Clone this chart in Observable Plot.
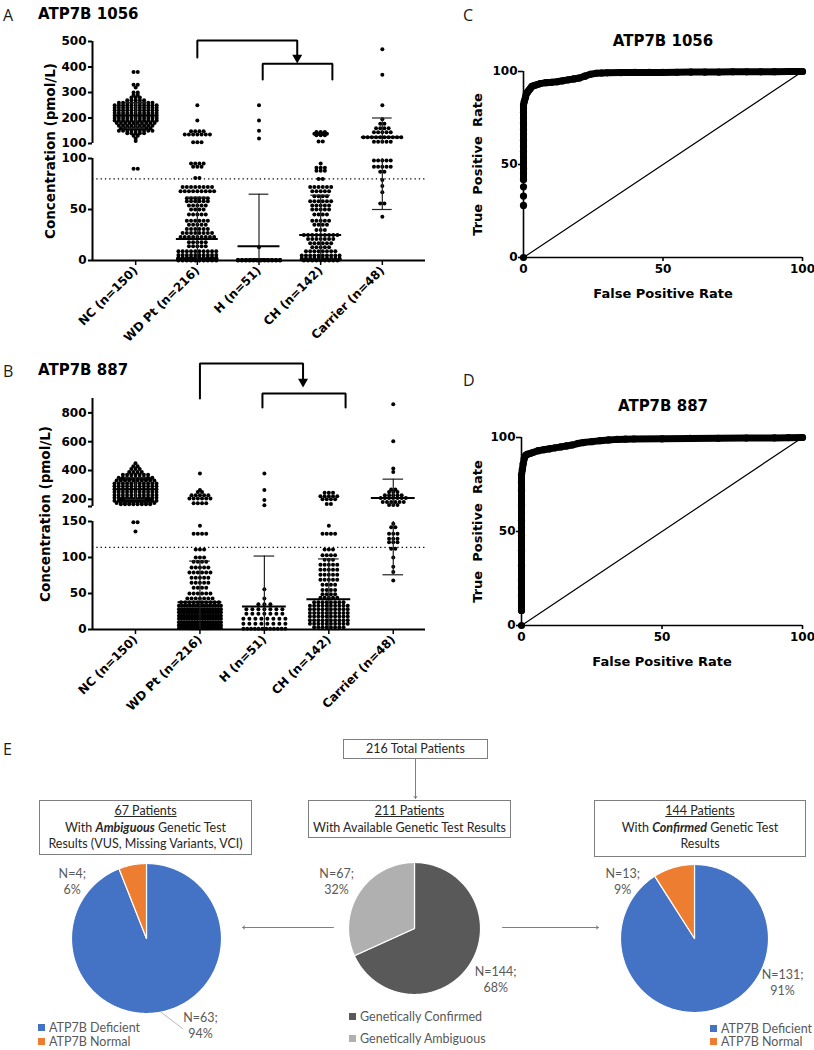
<!DOCTYPE html>
<html>
<head>
<meta charset="utf-8">
<script src="https://cdn.jsdelivr.net/npm/d3@7"></script>
<script src="https://cdn.jsdelivr.net/npm/@observablehq/plot@0.6"></script>
<style>
  html, body { margin: 0; padding: 0; background: #fff; }
  #page { position: relative; width: 814px; height: 1050px; overflow: hidden; background: #fff; }
  .t { position: absolute; line-height: 1; white-space: nowrap; }
  .letter { font: 16px "Open Sans", sans-serif; color: #1a1a1a; }
  .ptitle { font: bold 15px "DejaVu Sans", sans-serif; color: #000; }
  .box { position: absolute; box-sizing: border-box; border: 1px solid #7f7f7f; font: 12.5px Lato, sans-serif; color: #262626; text-align: center; line-height: 16.5px; padding-top: 2px; background: #fff; white-space: nowrap; }
  .leg { position: absolute; font: 12.5px Lato, sans-serif; color: #595959; line-height: 1; white-space: nowrap; }
  .sw { display: inline-block; width: 7px; height: 7px; margin-right: 4px; vertical-align: 1px; }
</style>
</head>
<body>
<div id="page"></div>
<script>
// ---------------- DATA ----------------
const groups = ["NC (n=150)", "WD Pt (n=216)", "H (n=51)", "CH (n=142)", "Carrier (n=48)"];

// ATP7B 1056 (pmol/L). Each row: [concentration, number of dots drawn in that row]
const a1056NC = [[380,2],[330,2],[320,1],[300,2],[290,2],[280,3],[270,5],[260,9],[250,11],[240,11],[230,11],[220,11],[210,11],[200,11],[190,11],[180,10],[170,9],[160,8],[150,9],[140,5],[130,2],[120,1],[110,1],[90,2]];
const a1056WD = [[250,1],[190,1],[148,4],[135,7],[105,3],[95,4],[92,3],[81,2],[72,8],[68,9],[61,6],[58,6],[54,5],[50,4],[45,5],[39,6],[35,5],[31,6],[27,8],[23,9],[18,5],[14,5],[9,10],[5.5,10],[2.6,10],[2.2,10],[1.8,10],[1.5,10],[1.1,10],[0.8,10],[0.4,10],[0.2,4],[0,10]];
const a1056H = [[250,1],[190,1],[150,1],[120,1],[13,1],[0.6,11],[0.4,12],[0.2,11],[0,12]];
const a1056CH = [[145,3],[138,4],[132,3],[108,2],[95,1],[91,3],[88,3],[80,2],[72,6],[68,5],[63,4],[58,6],[54,5],[50,5],[45,4],[39,5],[35,4],[30,3],[25,9],[21,7],[17,6],[13,5],[9,8],[5,10],[2,10],[1,10],[0,9]];
const a1056Carrier = [[470,1],[370,1],[250,1],[195,1],[177,2],[160,4],[144,5],[125,10],[107,5],[98,5],[92,5],[87,2],[79,1],[73,1],[67,1],[56,2],[43,1]];
const a1056Median = [210, 21, 14, 25, 125];
const a1056Low = [160, 0, 0, 0, 50];
const a1056High = [260, 62, 65, 64, 200];
const a1056Cutoff = 80;

// ATP7B 887 (pmol/L)
const b887NC = [[450,1],[430,2],[410,3],[390,4],[370,7],[350,9],[340,8],[330,10],[310,11],[290,11],[270,11],[250,11],[230,11],[210,11],[200,8],[190,11],[175,10],[165,8],[149,2],[136,1]];
const b887WD = [[380,1],[265,1],[250,2],[228,5],[205,6],[172,4],[144,1],[133,4],[111,3],[100,3],[94,4],[86,5],[79,6],[72,5],[65,5],[58,4],[50,6],[43,7],[38,10],[33,16],[28,17],[24,17],[19,17],[15,17],[10,17],[6,17],[2,16]];
const b887H = [[380,1],[265,1],[195,1],[158,1],[56,1],[43,1],[35,3],[28,7],[22,7],[15,8],[8,8],[1,12]];
const b887CH = [[245,3],[222,5],[200,4],[167,2],[144,1],[133,4],[111,3],[103,4],[97,3],[90,5],[83,5],[76,5],[69,5],[62,4],[55,4],[49,4],[44,5],[38,8],[33,10],[28,10],[23,10],[18,10],[13,10],[8,10],[3,8]];
const b887Carrier = [[860,1],[604,1],[414,1],[390,1],[268,2],[251,3],[228,5],[209,7],[181,6],[160,3],[147,1],[142,2],[133,3],[126,3],[121,3],[112,2],[100,1],[87,1],[80,1],[68,1]];
const b887Median = [270, 38, 32, 42, 209];
const b887Low = [200, 0, 0, 0, 76];
const b887High = [350, 95, 102, 98, 340];
const b887Cutoff = 114;

// ROC curves: [false positive rate %, true positive rate %]
const roc1056 = [[0,0],[0,28],[0,33],[0,38],[0,42],[0,45],[0,48],[0,51],[0,54],[0,57],[0,60],[0,63],[0,66],[0,69],[0,72],[0,75],[0,78],[0,80],[0,82],[0.3,84],[0.7,86],[1,88],[1.5,89],[2,90],[2.5,91],[3,92],[4,92.5],[5,93],[6,93.5],[8,94],[10,94.2],[12,94.5],[14,95],[16,95.5],[18,96],[20,96.5],[22,97.5],[24,98.5],[26,99],[28,99.2],[30,99.3],[35,99.4],[40,99.5],[45,99.5],[50,99.5],[55,99.6],[60,99.7],[65,99.7],[70,99.7],[75,99.8],[80,99.8],[85,99.8],[90,99.9],[95,100],[100,100]];
const roc887 = [[0,0],[0,8],[0,12],[0,16],[0,20],[0,24],[0,28],[0,32],[0,36],[0,40],[0,44],[0,48],[0,52],[0,56],[0,60],[0,64],[0,68],[0,72],[0,76],[0,80],[0.3,83],[0.6,86],[1,89],[1.5,90.5],[2,91],[3,91.5],[4,92],[6,93],[8,93.5],[10,94],[12,94.5],[14,95],[16,95.5],[18,96],[20,96.8],[22,97.3],[25,97.8],[28,98.3],[31,98.7],[34,99],[37,99.1],[40,99.2],[50,99.3],[60,99.5],[70,99.6],[80,99.7],[90,99.8],[95,99.9],[100,100]];

// Pie charts (patient counts)
const geneticLabels = ["Genetically Confirmed", "Genetically Ambiguous"];
const availableCounts = [144, 67];
const atp7bLabels = ["ATP7B Deficient", "ATP7B Normal"];
const ambiguousCounts = [63, 4];
const confirmedCounts = [131, 13];

// ---------------- STYLE / LAYOUT ----------------
const page = document.getElementById("page");
const FONT = "'DejaVu Sans', sans-serif";
const plotStyle = {fontFamily: FONT, fontSize: "12px", fontWeight: "bold", background: "transparent", color: "#000", overflow: "visible"};
const atpColors = ["#4472c4", "#ed7d31"];
const grayColors = ["#595959", "#b0b0b0"];

function place(node, left, top) {
  node.style.position = "absolute";
  node.style.left = left + "px";
  node.style.top = top + "px";
  page.appendChild(node);
  return node;
}
function addText(txt, cls, left, top, extra = "") {
  const d = document.createElement("div");
  d.className = "t " + cls;
  d.textContent = txt;
  d.style.cssText += `left:${left}px;top:${top}px;${extra}`;
  page.appendChild(d);
  return d;
}
function addHTML(html, cls, css) {
  const d = document.createElement("div");
  d.className = cls;
  d.innerHTML = html;
  d.style.cssText += css;
  page.appendChild(d);
  return d;
}

// ---------------- SCATTER PANELS ----------------
function scatterPanel(cfg) {
  const {breakAt, gap, upperScale, top} = cfg;
  const tHigh = v => breakAt + gap + (v - breakAt) * upperScale;
  const tv = v => (v <= breakAt ? v : tHigh(v));
  const yTop = tHigh(top);
  const pts = [];
  cfg.rows.forEach((rows, i) => rows.forEach(([v, n]) => {
    const spPx = n > 1 ? Math.min(cfg.spacingPx[i], (2 * cfg.maxHalfPx) / (n - 1)) : 0;
    const sp = spPx / cfg.pxPerCat;
    for (let k = 0; k < n; k++) pts.push({x: i + (k - (n - 1) / 2) * sp, y: tv(v)});
  }));
  const bars = groups.map((g, i) => ({i, med: tv(cfg.median[i]), lo: tv(cfg.low[i]), hi: tv(cfg.high[i]), hiRaw: cfg.high[i]}));
  const vert = [];
  for (const b of bars) {
    if (b.lo < breakAt) vert.push({x: b.i, y1: b.lo, y2: Math.min(b.hi, breakAt)});
    if (b.hiRaw > breakAt) vert.push({x: b.i, y1: Math.max(b.lo, tHigh(breakAt)), y2: b.hi});
  }
  const tickPos = [...cfg.ticksLow, ...cfg.ticksHigh.map(tHigh)];
  const tickLab = new Map([
    ...cfg.ticksLow.map(v => [v, String(v)]),
    ...cfg.ticksHigh.map(v => [tHigh(v), cfg.unlabeled.includes(v) ? "" : String(v)])
  ]);
  const x0 = cfg.xDomain[0];
  const br = cfg.bracket;
  const L = cfg.layout;
  return Plot.plot({
    width: L.width, height: L.height,
    marginLeft: L.ml, marginRight: L.mr, marginTop: L.mt, marginBottom: L.mb,
    style: plotStyle,
    x: {domain: cfg.xDomain},
    y: {domain: [0, yTop]},
    marks: [
      Plot.ruleY([cfg.threshold], {stroke: "#000", strokeWidth: 1.3, strokeDasharray: "1.3,3"}),
      Plot.dot(pts, {x: "x", y: "y", r: 2, fill: "#000", stroke: "none"}),
      Plot.ruleX(vert, {x: "x", y1: "y1", y2: "y2", stroke: "#222", strokeWidth: 1.2}),
      Plot.ruleY(bars, {x1: d => d.i - 0.16, x2: d => d.i + 0.16, y: "hi", stroke: "#222", strokeWidth: 1.2}),
      Plot.ruleY(bars, {x1: d => d.i - 0.16, x2: d => d.i + 0.16, y: "lo", stroke: "#222", strokeWidth: 1.2}),
      Plot.ruleY(bars, {x1: d => d.i - 0.34, x2: d => d.i + 0.34, y: "med", stroke: "#000", strokeWidth: 2}),
      Plot.ruleX([{a: 0, b: breakAt}, {a: tHigh(breakAt), b: yTop}], {x: x0, y1: "a", y2: "b", stroke: "#000", strokeWidth: 2}),
      Plot.ruleY([0], {stroke: "#000", strokeWidth: 2}),
      Plot.axisY({ticks: tickPos, tickFormat: d => tickLab.get(d), tickSize: 4, tickPadding: 2, strokeWidth: 2, label: null}),
      Plot.axisX({ticks: [0, 1, 2, 3, 4], tickFormat: i => groups[i], tickRotate: -45, tickSize: 5, tickPadding: 3, strokeWidth: 1.5, label: null}),
      Plot.text([cfg.yLabel], {text: d => d, frameAnchor: "left", textAnchor: "middle", lineAnchor: "middle", dx: cfg.yLabelDx, rotate: -90, fontSize: 13.5}),
      Plot.line([[1, br.wdBottom], [1, br.top], [br.arrowX, br.top], [br.arrowX, br.tri]], {stroke: "#000", strokeWidth: 2, strokeLinejoin: "miter"}),
      Plot.line([[br.s1, br.subBottom], [br.s1, br.subTop], [br.s2, br.subTop], [br.s2, br.subBottom]], {stroke: "#000", strokeWidth: 2, strokeLinejoin: "miter"}),
      Plot.dot([[br.arrowX, br.tri]], {symbol: "triangle", rotate: 180, r: 3.7, fill: "#000", stroke: "none"})
    ]
  });
}

place(scatterPanel({
  rows: [a1056NC, a1056WD, a1056H, a1056CH, a1056Carrier],
  median: a1056Median, low: a1056Low, high: a1056High, threshold: a1056Cutoff,
  breakAt: 100, gap: 14.7, upperScale: 0.25, top: 500,
  ticksLow: [0, 50, 100], ticksHigh: [100, 200, 300, 400, 500], unlabeled: [],
  xDomain: [-0.7, 4.7], pxPerCat: 61.67, spacingPx: [4.2, 4.2, 4.2, 4.2, 4.2], maxHalfPx: 21,
  yLabel: "Concentration (pmol/L)", yLabelDx: -42,
  bracket: {top: 215.7, wdBottom: 199, arrowX: 2.62, tri: 198.8, subTop: 193, subBottom: 177.5, s1: 2.06, s2: 3.19},
  layout: {width: 430, height: 315, ml: 92, mr: 5, mt: 11, mb: 85}
}), 0, 30);

place(scatterPanel({
  rows: [b887NC, b887WD, b887H, b887CH, b887Carrier],
  median: b887Median, low: b887Low, high: b887High, threshold: b887Cutoff,
  breakAt: 150, gap: 20.8, upperScale: 0.2, top: 900,
  ticksLow: [0, 50, 100, 150], ticksHigh: [150, 200, 400, 600, 800], unlabeled: [150],
  xDomain: [-0.667, 4.5], pxPerCat: 64.45, spacingPx: [4.2, 4.2, 6, 4.2, 4.2], maxHalfPx: 21,
  yLabel: "Concentration (pmol/L)", yLabelDx: -47,
  bracket: {top: 369.4, wdBottom: 320.8, arrowX: 2.6, tri: 344.2, subTop: 327.8, subBottom: 308.3, s1: 1.97, s2: 3.26},
  layout: {width: 430, height: 360, ml: 92, mr: 5, mt: 43, mb: 86}
}), 0, 355);

// ---------------- ROC PANELS ----------------
function rocPanel(pts, solidFrom, L) {
  return Plot.plot({
    width: L.width, height: L.height,
    marginLeft: L.ml, marginRight: L.mr, marginTop: L.mt, marginBottom: L.mb,
    style: plotStyle,
    x: {domain: [0, 100]},
    y: {domain: [0, 100]},
    marks: [
      Plot.line([[0, 0], [100, 100]], {stroke: "#000", strokeWidth: 1.2}),
      Plot.ruleX([0], {y1: 0, y2: 100, stroke: "#000", strokeWidth: 1.6}),
      Plot.ruleY([0], {x1: 0, x2: 100, stroke: "#000", strokeWidth: 1.6}),
      Plot.line(pts.filter(d => d[1] >= solidFrom), {stroke: "#000", strokeWidth: 7, strokeLinecap: "round", strokeLinejoin: "round"}),
      Plot.dot(pts, {r: 3.6, fill: "#000", stroke: "none"}),
      Plot.axisX({ticks: [0, 50, 100], tickSize: 4, tickPadding: 3, strokeWidth: 1.6, label: null}),
      Plot.axisY({ticks: [0, 50, 100], tickSize: 5, tickPadding: 1, strokeWidth: 1.6, label: null}),
      Plot.text(["False Positive Rate"], {text: d => d, frameAnchor: "bottom", lineAnchor: "middle", textAnchor: "middle", dy: 36, fontSize: 13}),
      Plot.text(["True\u00a0 Positive\u00a0 Rate"], {text: d => d, frameAnchor: "left", textAnchor: "middle", lineAnchor: "middle", dx: L.ylabDx, rotate: -90, fontSize: 13})
    ]
  });
}
place(rocPanel(roc1056, 42, {width: 374, height: 260, ml: 83, mr: 12, mt: 21, mb: 53, ylabDx: -46}), 440, 50);
place(rocPanel(roc887, 8, {width: 374, height: 260, ml: 81, mr: 12, mt: 22, mb: 50, ylabDx: -44}), 440, 415);

// ---------------- LETTERS & TITLES ----------------
addText("A", "letter", 3, 4);
addText("B", "letter", 3, 360);
addText("C", "letter", 463, 4);
addText("D", "letter", 463, 369);
addText("E", "letter", 3, 738);
addText("ATP7B 1056", "ptitle", 38, 4.5);
addText("ATP7B 887", "ptitle", 38, 360.5);
addText("ATP7B 1056", "ptitle", 563, 31.5, "width:200px;text-align:center;");
addText("ATP7B 887", "ptitle", 563, 396.5, "width:200px;text-align:center;");

// ---------------- PANEL E ----------------
addHTML("216 Total Patients", "box", "left:343px;top:739px;width:145px;height:20px;line-height:17px;padding-top:0;");
addHTML("<u>211 Patients</u><br>With Available Genetic Test Results", "box", "left:308px;top:800px;width:203px;height:38px;");
addHTML("<u>67 Patients</u><br>With <b><i>Ambiguous</i></b> Genetic Test<br>Results (VUS, Missing Variants, VCI)", "box", "left:39px;top:800px;width:213px;height:55px;");
addHTML("<u>144 Patients</u><br>With <b><i>Confirmed</i></b> Genetic Test<br>Results", "box", "left:594px;top:800px;width:212px;height:57px;");

function piePanel(counts, colors, L) {
  const total = d3.sum(counts);
  const marks = [];
  let a0 = 0;
  counts.forEach((c, i) => {
    const a1 = a0 + (c / total) * 2 * Math.PI;
    const n = Math.max(2, Math.ceil((a1 - a0) * 90));
    const pts = [[0, 0]];
    for (let k = 0; k <= n; k++) {
      const a = a0 + (a1 - a0) * k / n;
      pts.push([Math.sin(a), Math.cos(a)]);
    }
    pts.push([0, 0]);
    marks.push(Plot.line(pts, {fill: colors[i], stroke: "#fff", strokeWidth: 1.2, strokeLinejoin: "round"}));
    a0 = a1;
  });
  if (L.leader) marks.push(Plot.line(L.leader, {stroke: "#a6a6a6", strokeWidth: 0.8}));
  counts.forEach((c, i) => {
    const pct = Math.round((c / total) * 100);
    marks.push(Plot.text([`N=${c};\n${pct}%`], {
      x: L.labels[i][0], y: L.labels[i][1], text: d => d,
      fontFamily: "Lato, sans-serif", fontSize: 12.5, fontWeight: "normal", fill: "#595959", lineHeight: 1.3
    }));
  });
  return Plot.plot({
    width: L.width, height: L.height, margin: 0,
    style: {background: "transparent", overflow: "visible"},
    x: {domain: [-L.width / 2 / L.r, L.width / 2 / L.r], axis: null},
    y: {domain: [-L.height / 2 / L.r, L.height / 2 / L.r], axis: null},
    marks
  });
}
place(piePanel(ambiguousCounts, atpColors, {width: 240, height: 210, r: 75, labels: [[0.72, -1.15], [-0.99, 0.77]], leader: [[0.19, -0.98], [0.48, -1.2]]}), 26, 833);
place(piePanel(availableCounts, grayColors, {width: 220, height: 170, r: 66, labels: [[1.23, -0.76], [-1.18, 0.72]]}), 304, 843);
place(piePanel(confirmedCounts, atpColors, {width: 240, height: 200, r: 74, labels: [[1.19, -0.59], [-0.97, 0.78]]}), 574, 838);

function legend(labels, colors, left, tops) {
  labels.forEach((lab, i) => {
    addHTML(`<span class="sw" style="background:${colors[i]}"></span>${lab}`, "leg", `left:${left}px;top:${tops[i] - 6}px;`);
  });
}
legend(atp7bLabels, atpColors, 38, [1028, 1042]);
legend(geneticLabels, grayColors, 349, [1017, 1039]);
legend(atp7bLabels, atpColors, 710, [1029, 1042]);

// flow-chart connectors of panel E
const connectors = [
  {x1: 415, y1: 39, x2: 415, y2: 78},
  {x1: 333, y1: 207, x2: 242, y2: 207},
  {x1: 502, y1: 207, x2: 598, y2: 207}
];
place(Plot.plot({
  width: 814, height: 240, margin: 0,
  style: {background: "transparent", overflow: "visible"},
  x: {type: "identity", axis: null}, y: {type: "identity", axis: null},
  marks: [Plot.arrow(connectors, {x1: "x1", y1: "y1", x2: "x2", y2: "y2", stroke: "#7f7f7f", strokeWidth: 1, headLength: 4, headAngle: 70})]
}), 0, 720);
</script>
</body>
</html>
